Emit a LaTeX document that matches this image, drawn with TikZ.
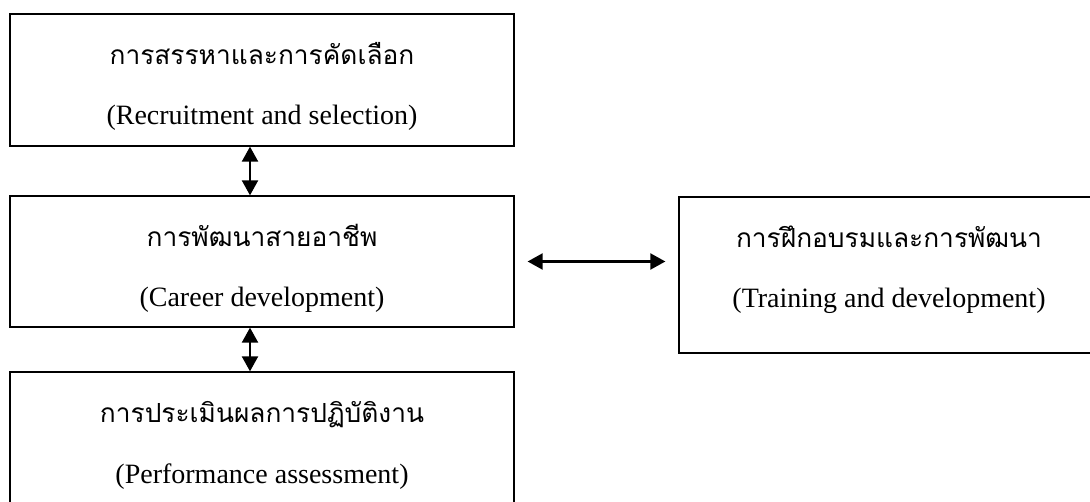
\documentclass[tikz,border=0pt]{standalone}
\usepackage{fontspec}
\setmainfont{Liberation Serif}
\newfontfamily\thaifont[Script=Thai]{Loma}
\usetikzlibrary{arrows.meta}
\tikzset{
  block/.style={draw, line width=1.3pt, inner sep=0pt},
  thlabel/.style={anchor=base, inner sep=0pt, font=\thaifont\fontsize{26.3}{30}\selectfont},
  enlabel/.style={anchor=base, inner sep=0pt, font=\fontsize{28}{32}\selectfont},
  link/.style={line width=2.2pt, {Triangle[length=15pt,width=16pt]}-{Triangle[length=15pt,width=16pt]}}
}

\begin{document}
\begin{tikzpicture}[x=1pt,y=-1pt]
        \clip (0,0) rectangle (1090,502);
        % Recruitment
        \node[block, minimum width=504, minimum height=132] (recruit) at (262,80) {};
        \node[thlabel] (recruitTh) at (262,65) {การสรรหาและการคัดเลือก};
        \node[enlabel] (recruitEn) at (262,125) {(Recruitment and selection)};

        % Career development
        \node[block, minimum width=504, minimum height=131] (career) at (262,261.5) {};
        \node[thlabel] (careerTh) at (262,247) {การพัฒนาสายอาชีพ};
        \node[enlabel] (careerEn) at (262,307) {(Career development)};

        % Performance assessment
        \node[block, minimum width=504, minimum height=132] (appraise) at (262,438) {};
        \node[thlabel] (appraiseTh) at (262,423) {การประเมินผลการปฏิบัติงาน};
        \node[enlabel] (appraiseEn) at (262,483) {(Performance assessment)};

        % Training and development
        \node[block, minimum width=420, minimum height=156] (training) at (889,275) {};
        \node[thlabel] (trainingTh) at (889,248) {การฝึกอบรมและการพัฒนา};
        \node[enlabel] (trainingEn) at (889,308) {(Training and development)};

        % Links
        \draw[link] ([xshift=-12pt]recruit.south) -- ([xshift=-12pt]career.north);
        \draw[link] ([xshift=-12pt]career.south) -- ([xshift=-12pt]appraise.north);
        \draw[link, shorten <=13pt, shorten >=13pt] (career.east) -- (career.east -| training.west);
\end{tikzpicture}
\end{document}
